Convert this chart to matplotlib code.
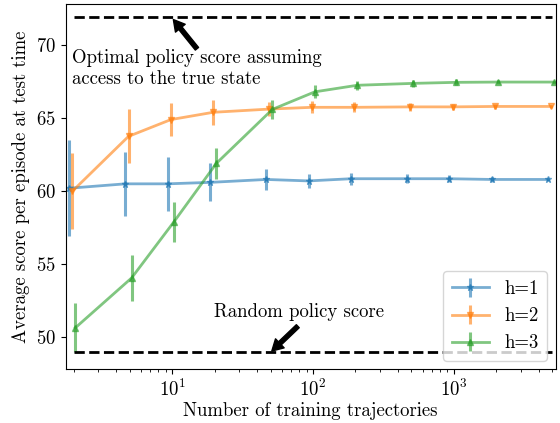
import numpy as np
import matplotlib
matplotlib.use("Agg")
import matplotlib.pyplot as plt

plt.rcParams['font.family'] = ['cmr10', 'DejaVu Serif']
plt.rcParams['mathtext.fontset'] = 'cm'
plt.rcParams['axes.formatter.use_mathtext'] = True
plt.rcParams['axes.unicode_minus'] = False
plt.rcParams['font.size'] = 13.5

trajectories = np.array([2, 5, 10, 20, 50, 100, 200, 500, 1000, 2000, 5000])

h1_mean = [60.2, 60.5, 60.5, 60.6, 60.8, 60.7, 60.85, 60.85, 60.85, 60.8, 60.8]
h1_err = [3.3, 2.2, 1.85, 1.3, 0.75, 0.5, 0.4, 0.3, 0.25, 0.15, 0.1]

h2_mean = [60.0, 63.75, 64.9, 65.4, 65.62, 65.74, 65.74, 65.77, 65.77, 65.8, 65.8]
h2_err = [2.6, 1.85, 1.15, 0.85, 0.5, 0.4, 0.35, 0.25, 0.2, 0.15, 0.1]

h3_mean = [50.65, 54.05, 57.9, 61.9, 65.6, 66.8, 67.25, 67.38, 67.45, 67.47, 67.47]
h3_err = [1.67, 1.55, 1.35, 1.05, 0.65, 0.45, 0.3, 0.25, 0.2, 0.15, 0.1]

optimal_score = 71.9
random_score = 48.95

series = [
    ('h=1', h1_mean, h1_err, '*', 0.93),
    ('h=2', h2_mean, h2_err, 'v', 0.98),
    ('h=3', h3_mean, h3_err, '^', 1.03),
]

fig = plt.figure(figsize=(5.6, 4.23), dpi=100)
ax = fig.add_axes([0.117, 0.127, 0.875, 0.863])

for label, mean, err, marker, shift in series:
    ax.errorbar(trajectories * shift, mean, yerr=err, marker=marker, markersize=5,
                linewidth=2, elinewidth=2.2, alpha=0.6, label=label)

ax.plot([trajectories[0], trajectories[-1]], [optimal_score, optimal_score], 'k--', lw=2)
ax.plot([trajectories[0], trajectories[-1]], [random_score, random_score], 'k--', lw=2)

arrow = dict(facecolor='black', edgecolor='black', width=3, headwidth=9, headlength=8, shrink=0)
ax.annotate('', xy=(10.2, 71.75), xytext=(15, 69.75), arrowprops=arrow)
ax.text(1.96, 68.4, 'Optimal policy score assuming\naccess to the true state', ha='left', va='center')
ax.annotate('', xy=(51, 49.05), xytext=(78, 50.75), arrowprops=arrow)
ax.text(19.7, 51.7, 'Random policy score', ha='left', va='center')

ax.set_xscale('log')
ax.set_xlim(1.75, 5270)
ax.set_ylim(47.8, 72.8)
ax.set_xlabel('Number of training trajectories', labelpad=1)
ax.set_ylabel('Average score per episode at test time')
ax.legend(loc='lower right', borderaxespad=0.45, borderpad=0.45)

fig.savefig('out.png', dpi=100)
